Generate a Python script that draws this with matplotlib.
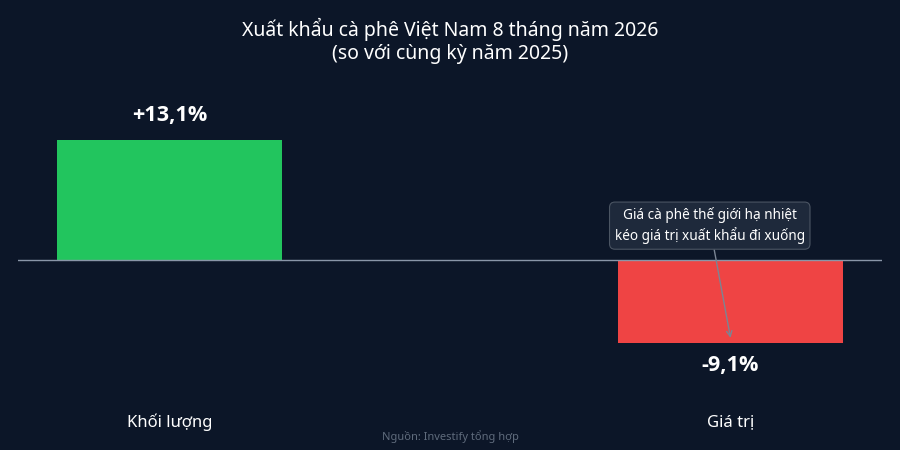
import matplotlib
matplotlib.use("Agg")
import matplotlib.pyplot as plt

categories = ["Khối lượng", "Giá trị"]
values = [13.1, -9.1]
value_labels = ["+13,1%", "-9,1%"]
colors = ["#22c55e", "#ef4444"]
title = "Xuất khẩu cà phê Việt Nam 8 tháng năm 2026\n(so với cùng kỳ năm 2025)"
note = "Giá cà phê thế giới hạ nhiệt\nkéo giá trị xuất khẩu đi xuống"
source = "Nguồn: Investify tổng hợp"

BG = "#0c1628"
plt.rcParams['font.family'] = ['Noto Sans', 'DejaVu Sans']

fig = plt.figure(figsize=(9, 4.5), dpi=100, facecolor=BG)
W, H = 900, 450
# axes in pixel coords: x 18..882, y 90..390
ax = fig.add_axes([18 / W, 1 - 390 / H, 864 / W, 300 / H])
ax.set_facecolor(BG)
x = list(range(len(categories)))
ax.bar(x, values, width=0.4, color=colors, zorder=2)
ax.set_xlim(-0.27, 1.27)
ppu = 120 / 13.1
ax.set_ylim(-(390 - 260) / ppu, (260 - 90) / ppu)
ax.axhline(0, color="#8a96a8", lw=1.0, zorder=3)
for s in ax.spines.values():
    s.set_visible(False)
ax.set_xticks([])
ax.set_yticks([])

bold_family = ['Open Sans', 'DejaVu Sans']
# value labels
ax.annotate(value_labels[0], (x[0], values[0]), xytext=(0, 18), textcoords="offset points",
            ha="center", va="center", color="white", fontsize=15.6, fontweight="bold",
            family=bold_family)
ax.annotate(value_labels[1], (x[1], values[1]), xytext=(0, -16), textcoords="offset points",
            ha="center", va="center", color="white", fontsize=15.6, fontweight="bold",
            family=bold_family)

# category labels
for xi, c in zip(x, categories):
    xf = ax.transData.transform((xi, 0))[0] / W
    fig.text(xf, 1 - 422 / H, c, ha="center", va="center", color="white", fontsize=12)

fig.text(0.5, 1 - 41 / H, title, ha="center", va="center", color="white",
         fontsize=14, linespacing=1.2)
fig.text(0.5, 1 - 437 / H, source, ha="center", va="center", color="#5f6b7c", fontsize=8)

# annotation with arrow
ax.annotate(note, xy=(x[1], values[1] + 0.6), xytext=(0.963, 3.75),
            ha="center", va="center", color="white", fontsize=9.8, linespacing=1.3,
            bbox=dict(boxstyle="round,pad=0.38,rounding_size=0.4", fc="#1e293b", ec="#4b5563", lw=0.8),
            arrowprops=dict(arrowstyle="->", color="#7b8594", lw=1.0, shrinkA=0, shrinkB=0),
            zorder=5)

fig.savefig("out.png", dpi=100, facecolor=BG)
